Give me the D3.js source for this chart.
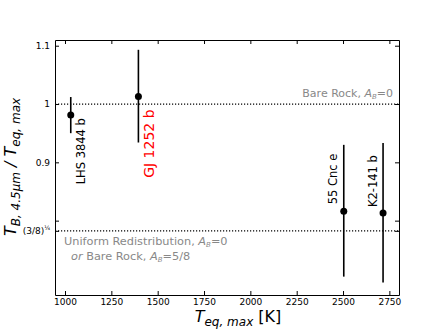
<!DOCTYPE html>
<html>
<head>
<meta charset="utf-8">
<script src="https://cdn.jsdelivr.net/npm/d3@7"></script>
<style>
  body { margin: 0; background: #fff; }
  text { font-family: "DejaVu Sans", sans-serif; }
</style>
</head>
<body>
<div id="chart"></div>
<script>
// planets
const planets = ["LHS 3844 b", "GJ 1252 b", "55 Cnc e", "K2-141 b"];
const teqMax = [1031, 1396, 2504, 2716];
const ratio = [0.981, 1.013, 0.816, 0.813];
const errHi = [1.012, 1.093, 0.930, 0.933];
const errLo = [0.950, 0.934, 0.704, 0.694];
const labelColors = ["#000", "red", "#000", "#000"];
const labelBelow = [true, true, false, false];

const xTicks = [1000, 1250, 1500, 1750, 2000, 2250, 2500, 2750];
const yTicks = [1.1, 1.0, 0.9, 0.8, Math.pow(3 / 8, 0.25)];
const yTickLabels = ["1.1", "1", "0.9", "", "(3/8)"];

const W = 443, H = 332;
const m = {left: 55, right: 44, top: 40, bottom: 37};
const iw = W - m.left - m.right, ih = H - m.top - m.bottom;

let svg = d3.select("#chart").append("svg")
    .attr("width", W)
    .attr("height", H);

let x = d3.scaleLinear().domain([946, 2802]).range([0, iw]);
let y = d3.scaleLinear().domain([0.6725, 1.1098]).range([ih, 0]);

let g = svg.append("g").attr("transform", `translate(${m.left},${m.top})`);

// axes, ticks pointing in
let xAxis = g.append("g").attr("transform", `translate(0,${ih})`)
    .call(d3.axisBottom(x).tickValues(xTicks).tickSize(-4).tickPadding(4)
        .tickSizeOuter(0).tickFormat(d3.format("d")));
let xTop = g.append("g")
    .call(d3.axisTop(x).tickValues(xTicks).tickSize(-4).tickFormat("").tickSizeOuter(0));
let yAxis = g.append("g")
    .call(d3.axisLeft(y).tickValues(yTicks).tickSize(-4).tickPadding(5).tickSizeOuter(0)
        .tickFormat((d, i) => yTickLabels[i]));
let yRight = g.append("g").attr("transform", `translate(${iw},0)`)
    .call(d3.axisRight(y).tickValues(yTicks).tickSize(-4).tickFormat("").tickSizeOuter(0));

[xAxis, xTop, yAxis, yRight].forEach(a => {
    a.selectAll(".domain").attr("stroke", "#000").attr("stroke-width", 1);
    a.selectAll(".tick line").attr("stroke", "#000");
    a.selectAll("text").attr("font-size", 9).attr("fill", "#000");
});
// quarter exponent on (3/8)
yAxis.selectAll(".tick text").filter((d, i) => i === 4)
    .append("tspan").attr("dy", -4).attr("font-size", 6).text("¼");

// reference lines
const refLines = [1.0, Math.pow(3 / 8, 0.25)];
g.selectAll(".ref").data(refLines).enter().append("line")
    .attr("x1", 0).attr("x2", iw)
    .attr("y1", d => y(d)).attr("y2", d => y(d))
    .attr("stroke", "#000").attr("stroke-width", 1.2)
    .attr("stroke-dasharray", "1.2,1.8");

// reference line notes
let bare = g.append("text").attr("x", iw - 6).attr("y", y(1.0) - 7)
    .attr("text-anchor", "end").attr("font-size", 11).attr("fill", "#888");
bare.append("tspan").text("Bare Rock, ");
bare.append("tspan").attr("font-style", "italic").text("A");
bare.append("tspan").attr("font-size", 7).attr("dy", 2).attr("font-style", "italic").text("B");
bare.append("tspan").attr("dy", -2).text("=0");

let uni = g.append("text").attr("x", 9).attr("y", y(refLines[1]) + 14)
    .attr("font-size", 11.3).attr("fill", "#888");
uni.append("tspan").text("Uniform Redistribution, ");
uni.append("tspan").attr("font-style", "italic").text("A");
uni.append("tspan").attr("font-size", 7).attr("dy", 2).attr("font-style", "italic").text("B");
uni.append("tspan").attr("dy", -2).text("=0");

let uni2 = g.append("text").attr("x", 16).attr("y", y(refLines[1]) + 29)
    .attr("font-size", 11.3).attr("fill", "#888");
uni2.append("tspan").attr("font-style", "italic").text("or");
uni2.append("tspan").text(" Bare Rock, ");
uni2.append("tspan").attr("font-style", "italic").text("A");
uni2.append("tspan").attr("font-size", 7).attr("dy", 2).attr("font-style", "italic").text("B");
uni2.append("tspan").attr("dy", -2).text("=5/8");

// error bars and points
let pts = g.selectAll(".pt").data(planets).enter().append("g");
pts.append("line")
    .attr("x1", (d, i) => x(teqMax[i])).attr("x2", (d, i) => x(teqMax[i]))
    .attr("y1", (d, i) => y(errHi[i])).attr("y2", (d, i) => y(errLo[i]))
    .attr("stroke", "#000").attr("stroke-width", 1.6);
pts.append("circle")
    .attr("cx", (d, i) => x(teqMax[i])).attr("cy", (d, i) => y(ratio[i]))
    .attr("r", 3.5).attr("fill", "#000");

// rotated planet names: below-right for the cool ones, above-left for the hot ones
const labelDx = [14, 16, -7, -6];
const labelDy = [3, 13, -7, -6];
pts.append("text")
    .attr("transform", (d, i) => {
        let tx = x(teqMax[i]) + labelDx[i];
        let ty = y(ratio[i]) + labelDy[i];
        return `translate(${tx},${ty}) rotate(-90)`;
    })
    .attr("text-anchor", (d, i) => labelBelow[i] ? "end" : "start")
    .attr("font-size", (d, i) => i === 1 ? 14 : 11.5)
    .attr("fill", (d, i) => labelColors[i])
    .text(d => d);

// axis titles
let xl = svg.append("text").attr("x", 238).attr("y", 322)
    .attr("text-anchor", "middle").attr("font-size", 16);
xl.append("tspan").attr("font-style", "italic").text("T");
xl.append("tspan").attr("font-style", "italic").attr("font-size", 12).attr("dy", 4).text("eq, max");
xl.append("tspan").attr("dy", -4).text(" [K]");

let yl = svg.append("text").attr("transform", "translate(16,167) rotate(-90)")
    .attr("text-anchor", "middle").attr("font-size", 16);
yl.append("tspan").attr("font-style", "italic").text("T");
yl.append("tspan").attr("font-style", "italic").attr("font-size", 12).attr("dy", 4).text("B, 4.5μm");
yl.append("tspan").attr("dy", -4).attr("font-style", "italic").text(" / T");
yl.append("tspan").attr("font-style", "italic").attr("font-size", 12).attr("dy", 4).text("eq, max");
</script>
</body>
</html>
